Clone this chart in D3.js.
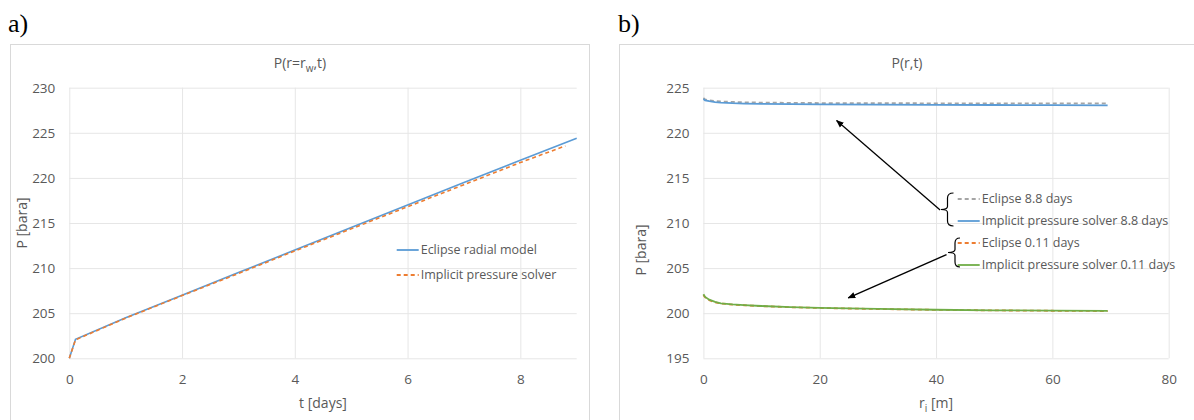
<!DOCTYPE html>
<html>
<head>
<meta charset="utf-8">
<script src="https://cdn.jsdelivr.net/npm/d3@7/dist/d3.min.js"></script>
<style>
  body { margin: 0; background: #fff; }
  svg { display: block; font-family: 'Open Sans', sans-serif; }
</style>
</head>
<body>
<svg id="chart" width="1194" height="420"></svg>
<script>
// panel a) pressure at the well vs time
const tEclipse = [0, 0.11, 1, 2, 3, 4, 5, 6, 7, 8, 9];
const pEclipseRadial = [200, 202.1, 204.5, 207.0, 209.5, 212.0, 214.5, 217.0, 219.5, 221.95, 224.4];
const tImplicit = [0, 0.11, 1, 2, 3, 4, 5, 6, 7, 8, 8.8];
const pImplicitSolver = [200, 202.05, 204.45, 206.95, 209.4, 211.9, 214.35, 216.8, 219.25, 221.7, 223.55];

// panel b) pressure profile vs radius
const rCells = [0, 0.3, 1, 2, 3, 5, 7, 10, 15, 20, 30, 40, 50, 60, 69.5];
const pEclipse88 = [223.85, 223.7, 223.6, 223.52, 223.47, 223.42, 223.38, 223.35, 223.32, 223.3, 223.28, 223.27, 223.27, 223.27, 223.27];
const pImplicit88 = [223.75, 223.6, 223.5, 223.4, 223.35, 223.28, 223.24, 223.2, 223.17, 223.15, 223.12, 223.1, 223.08, 223.06, 223.05];
const pEclipse011 = [202.0, 201.75, 201.45, 201.2, 201.08, 200.95, 200.88, 200.78, 200.66, 200.58, 200.46, 200.37, 200.31, 200.27, 200.24];
const pImplicit011 = [202.1, 201.8, 201.5, 201.25, 201.1, 200.98, 200.9, 200.8, 200.68, 200.6, 200.48, 200.38, 200.32, 200.28, 200.25];

// ticks
const xTicksA = [0, 2, 4, 6, 8];
const yTicksA = [200, 205, 210, 215, 220, 225, 230];
const xTicksB = [0, 20, 40, 60, 80];
const yTicksB = [195, 200, 205, 210, 215, 220, 225];

const textColor = '#595959';
const gridColor = '#e6e6e6';
const frameColor = '#d9d9d9';
const svg = d3.select('#chart');

// draw grid and tick labels of one panel
function panelBase(x, y, xTicks, yTicks) {
  const [x0, x1] = x.range();
  const [yb, yt] = y.range();
  const g = svg.append('g');
  const gy = g.append('g').attr('transform', `translate(${x0},0)`)
    .call(d3.axisLeft(y).tickValues(yTicks).tickSize(-(x1 - x0)).tickPadding(14));
  const gx = g.append('g').attr('transform', `translate(0,${yb})`)
    .call(d3.axisBottom(x).tickValues(xTicks).tickSize(-(yb - yt)).tickPadding(16));
  [gx, gy].forEach((a) => {
    a.select('.domain').remove();
    a.selectAll('line').attr('stroke', gridColor).attr('stroke-width', 1);
    a.selectAll('text').attr('fill', textColor).style('font-size', '13.5px')
      .style('font-family', "'Open Sans', sans-serif");
  });
  return g;
}

function series(g, x, y, xs, ys, color, dash, w) {
  const line = d3.line().x((d) => x(d[0])).y((d) => y(d[1]));
  g.append('path')
    .attr('d', line(xs.map((v, i) => [v, ys[i]])))
    .attr('fill', 'none')
    .attr('stroke', color)
    .attr('stroke-width', w || 1.8)
    .attr('stroke-dasharray', dash || null);
}

function legendRow(lx, ly, color, dash, label) {
  svg.append('line').attr('x1', lx).attr('x2', lx + 22).attr('y1', ly).attr('y2', ly)
    .attr('stroke', color).attr('stroke-width', 1.8).attr('stroke-dasharray', dash || null);
  svg.append('text').attr('x', lx + 24).attr('y', ly).attr('dy', '0.35em')
    .attr('fill', textColor).style('font-size', '12.5px').text(label);
}

// ---------- panel a ----------
svg.append('rect').attr('x', 10.5).attr('y', 44.5).attr('width', 579).attr('height', 400)
  .attr('fill', 'none').attr('stroke', frameColor);
svg.append('text').attr('x', 8).attr('y', 32).style('font-family', "'Liberation Serif', serif")
  .style('font-size', '26px').attr('fill', '#000').text('a)');

const xA = d3.scaleLinear().domain([0, 9]).range([69.3, 576.7]);
const yA = d3.scaleLinear().domain([200, 230]).range([358.3, 87.7]);
const gA = panelBase(xA, yA, xTicksA, yTicksA);
series(gA, xA, yA, tEclipse, pEclipseRadial, '#5B9BD5', null, 1.6);
series(gA, xA, yA, tImplicit, pImplicitSolver, '#ED7D31', '4,3', 1.6);

const titleA = svg.append('text').attr('x', 300).attr('y', 68).attr('text-anchor', 'middle')
  .attr('fill', textColor).style('font-size', '14px');
titleA.append('tspan').text('P(r=r');
titleA.append('tspan').attr('dy', 4).style('font-size', '10px').text('w');
titleA.append('tspan').attr('dy', -4).text(',t)');

svg.append('text').attr('x', 323).attr('y', 408).attr('text-anchor', 'middle')
  .attr('fill', textColor).style('font-size', '14px').text('t [days]');
svg.append('text').attr('transform', 'translate(27,223) rotate(-90)').attr('text-anchor', 'middle')
  .attr('fill', textColor).style('font-size', '14px').text('P [bara]');

legendRow(396.7, 250, '#5B9BD5', null, 'Eclipse radial model');
legendRow(396.7, 275, '#ED7D31', '4,3', 'Implicit pressure solver');

// ---------- panel b ----------
svg.append('rect').attr('x', 619.5).attr('y', 44.5).attr('width', 578).attr('height', 400)
  .attr('fill', 'none').attr('stroke', frameColor);
svg.append('text').attr('x', 618).attr('y', 32).style('font-family', "'Liberation Serif', serif")
  .style('font-size', '26px').attr('fill', '#000').text('b)');

const xB = d3.scaleLinear().domain([0, 80]).range([703.4, 1168.7]);
const yB = d3.scaleLinear().domain([195, 225]).range([358.3, 87.7]);
const gB = panelBase(xB, yB, xTicksB, yTicksB);
series(gB, xB, yB, rCells, pEclipse88, '#A5A5A5', '4,3');
series(gB, xB, yB, rCells, pImplicit88, '#5B9BD5');
series(gB, xB, yB, rCells, pEclipse011, '#ED7D31', '4,3');
series(gB, xB, yB, rCells, pImplicit011, '#70AD47');

svg.append('text').attr('x', 907).attr('y', 68).attr('text-anchor', 'middle')
  .attr('fill', textColor).style('font-size', '14px').text('P(r,t)');
const xLabB = svg.append('text').attr('x', 936).attr('y', 408).attr('text-anchor', 'middle')
  .attr('fill', textColor).style('font-size', '14px');
xLabB.append('tspan').text('r');
xLabB.append('tspan').attr('dy', 4).style('font-size', '10px').text('i');
xLabB.append('tspan').attr('dy', -4).text(' [m]');
svg.append('text').attr('transform', 'translate(646,250) rotate(-90)').attr('text-anchor', 'middle')
  .attr('fill', textColor).style('font-size', '14px').text('P [bara]');

legendRow(957.7, 199, '#A5A5A5', '4,3', 'Eclipse 8.8 days');
legendRow(957.7, 221, '#5B9BD5', null, 'Implicit pressure solver 8.8 days');
legendRow(957.7, 243, '#ED7D31', '4,3', 'Eclipse 0.11 days');
legendRow(957.7, 265, '#70AD47', null, 'Implicit pressure solver 0.11 days');

// braces and arrows pointing at the curve pairs
svg.append('defs').append('marker').attr('id', 'head')
  .attr('viewBox', '0 0 10 10').attr('refX', 9).attr('refY', 5)
  .attr('markerWidth', 6).attr('markerHeight', 6).attr('orient', 'auto')
  .append('path').attr('d', 'M0,1L10,5L0,9Z').attr('fill', '#000');

function brace(xe, xs, xt, y0, y1) {
  const ym = (y0 + y1) / 2;
  const r = 5;
  const d = `M${xe},${y0}Q${xs},${y0} ${xs},${y0 + r}L${xs},${ym - 3}Q${xs},${ym} ${xt},${ym}`
    + `Q${xs},${ym} ${xs},${ym + 3}L${xs},${y1 - r}Q${xs},${y1} ${xe},${y1}`;
  svg.append('path').attr('d', d).attr('fill', 'none').attr('stroke', '#000').attr('stroke-width', 1.2);
}
brace(953.5, 947.5, 941, 193, 226);
brace(960, 955, 948, 238, 267);

function arrow(from, to) {
  svg.append('line')
    .attr('x1', xB(from[0])).attr('y1', yB(from[1]))
    .attr('x2', xB(to[0])).attr('y2', yB(to[1]))
    .attr('stroke', '#000').attr('stroke-width', 1.3)
    .attr('marker-end', 'url(#head)');
}
arrow([40.7, 211.45], [22.9, 221.36]);
arrow([41.8, 206.5], [24.9, 201.7]);
</script>
</body>
</html>
